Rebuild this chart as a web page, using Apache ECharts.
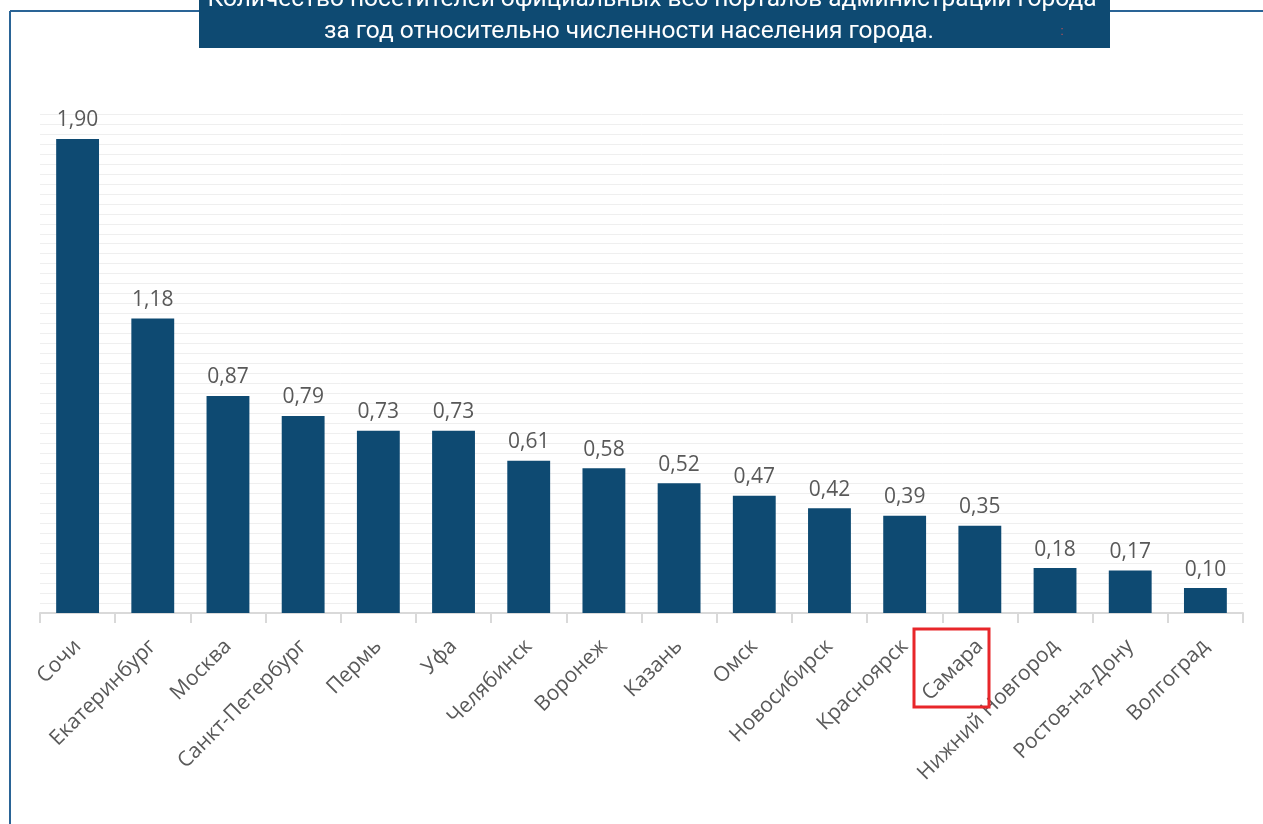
<!DOCTYPE html>
<html>
<head>
<meta charset="utf-8">
<script src="https://cdn.jsdelivr.net/npm/echarts@6/dist/echarts.min.js"></script>
<style>
  html, body { margin: 0; padding: 0; background: #fff; }
  #chart { width: 1263px; height: 824px; }
</style>
</head>
<body>
<div id="chart"></div>
<script>
// города
const cities = ['Сочи', 'Екатеринбург', 'Москва', 'Санкт-Петербург', 'Пермь', 'Уфа', 'Челябинск', 'Воронеж',
  'Казань', 'Омск', 'Новосибирск', 'Красноярск', 'Самара', 'Нижний Новгород', 'Ростов-на-Дону', 'Волгоград']
// посетители на жителя
const visitors = [1.90, 1.18, 0.87, 0.79, 0.73, 0.73, 0.61, 0.58, 0.52, 0.47, 0.42, 0.39, 0.35, 0.18, 0.17, 0.10]
const titleLines = ['Количество посетителей официальных веб порталов администрации города',
  'за год относительно численности населения города.']

const barColor = '#0e4a72'
const textGray = '#595959'

const myChart = echarts.init(document.getElementById('chart'))
const option = {
  animation: false,
  grid: { left: 40, right: 20, top: 114, bottom: 211 },
  xAxis: {
    type: 'category',
    data: cities,
    axisLine: { lineStyle: { color: '#d9d9d9', width: 2 } },
    axisTick: { show: true, length: 10, lineStyle: { color: '#d9d9d9', width: 2 } },
    axisLabel: {
      interval: 0,
      rotate: 45,
      margin: 30,
      color: textGray,
      fontFamily: 'Open Sans',
      fontSize: 21
    }
  },
  yAxis: {
    type: 'value',
    min: 0,
    max: 2,
    interval: 0.04,
    axisLabel: { show: false },
    axisLine: { show: false },
    axisTick: { show: false },
    splitLine: { lineStyle: { color: '#efefef', width: 1 } }
  },
  series: [{
    type: 'bar',
    data: visitors,
    barWidth: '57%',
    itemStyle: { color: barColor },
    label: {
      show: true,
      position: 'top',
      distance: 8,
      color: textGray,
      fontFamily: 'Open Sans',
      fontSize: 21,
      formatter: p => p.value.toFixed(2).replace('.', ',')
    }
  }],
  graphic: [
    // рамка
    { type: 'line', shape: { x1: 10, y1: 11, x2: 10, y2: 824 }, style: { stroke: '#2a6496', lineWidth: 2 } },
    { type: 'line', shape: { x1: 10, y1: 11, x2: 1263, y2: 11 }, style: { stroke: '#2a6496', lineWidth: 2 } },
    // заголовок
    { type: 'rect', shape: { x: 199, y: 0, width: 911, height: 48 }, style: { fill: barColor }, z: 10 },
    {
      type: 'text', x: 652, y: 0, z: 11,
      style: { text: titleLines[0], fill: '#fff', font: '24.5px Roboto', align: 'center', verticalAlign: 'middle' }
    },
    {
      type: 'text', x: 629, y: 32, z: 11,
      style: { text: titleLines[1], fill: '#fff', font: '24.5px Roboto', align: 'center', verticalAlign: 'middle' }
    },
    { type: 'text', x: 1062, y: 31, z: 11, style: { text: ':', fill: '#b0505a', font: '13px "Liberation Sans"', align: 'center', verticalAlign: 'middle' } },
    // выделение Самары
    { type: 'rect', shape: { x: 914, y: 629, width: 75, height: 78 }, style: { fill: 'none', stroke: '#e8262a', lineWidth: 3 }, z: 10 }
  ]
}
myChart.setOption(option)
</script>
</body>
</html>
